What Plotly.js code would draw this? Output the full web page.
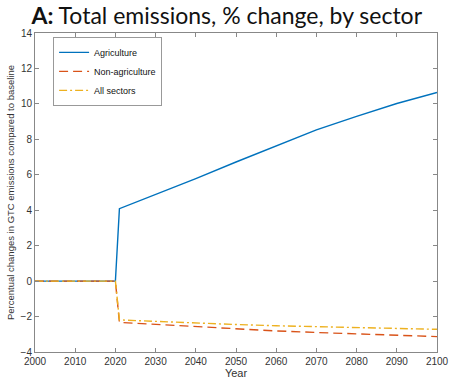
<!DOCTYPE html>
<html><head><meta charset="utf-8">
<script src="https://cdn.plot.ly/plotly-3.0.1.min.js"></script>
<style>html,body{margin:0;padding:0;background:#fff}#c{width:449px;height:379px}</style>
</head><body><div id="c"></div>
<script>
var years = [2000, 2010, 2020, 2021, 2030, 2040, 2050, 2060, 2070, 2080, 2090, 2100];
var agriculture = [0, 0, 0, 4.09, 4.88, 5.78, 6.72, 7.62, 8.53, 9.30, 10.02, 10.64];
var nonAgriculture = [0, 0, 0, -2.33, -2.45, -2.58, -2.70, -2.81, -2.90, -2.98, -3.06, -3.13];
var allSectors = [0, 0, 0, -2.19, -2.28, -2.37, -2.45, -2.52, -2.58, -2.63, -2.68, -2.72];
var xTicks = [2000, 2010, 2020, 2030, 2040, 2050, 2060, 2070, 2080, 2090, 2100];
var yTicks = [-4, -2, 0, 2, 4, 6, 8, 10, 12, 14];

var traces = [
  {x: years, y: agriculture, name: 'Agriculture', mode: 'lines', line: {color: '#0072BD', width: 1.4}},
  {x: years, y: nonAgriculture, name: 'Non-agriculture', mode: 'lines', line: {color: '#D95319', width: 1.4, dash: '9px,5px'}},
  {x: years, y: allSectors, name: 'All sectors', mode: 'lines', line: {color: '#EDB120', width: 1.4, dash: '8px,3px,2px,3px'}}
];
var axisCommon = {showline: true, mirror: 'ticks', linecolor: '#888', linewidth: 1, ticks: 'inside', ticklen: 4, tickcolor: '#888', showgrid: false, zeroline: false, tickfont: {family: 'Liberation Sans, Arial', size: 10, color: '#333'}};
var layout = {
  width: 449, height: 379,
  margin: {l: 35, r: 12, t: 33, b: 27},
  paper_bgcolor: '#fff', plot_bgcolor: '#fff',
  showlegend: true,
  title: {text: '<b>A:</b> Total emissions, % change, by sector', x: 0.505, xanchor: 'center', y: 0.978, yanchor: 'top', font: {family: 'Lato, Liberation Sans', size: 23, color: '#111'}},
  xaxis: Object.assign({}, axisCommon, {range: [2000, 2100], tickvals: xTicks, title: {text: 'Year', standoff: 2, font: {family: 'Liberation Sans, Arial', size: 11, color: '#333'}}}),
  yaxis: Object.assign({}, axisCommon, {range: [-4, 14], tickvals: yTicks, title: {text: 'Percentual changes in GTC emissions compared to baseline', standoff: 4, font: {family: 'Liberation Sans, Arial', size: 9.5, color: '#333'}}}),
  legend: {x: 0.045, y: 0.988, xanchor: 'left', yanchor: 'top', bgcolor: '#fff', bordercolor: '#999', borderwidth: 1, font: {family: 'Liberation Sans, Arial', size: 9, color: '#111'}, tracegroupgap: 0, itemwidth: 30}
};
Plotly.newPlot('c', traces, layout, {staticPlot: true, displayModeBar: false});
</script></body></html>
